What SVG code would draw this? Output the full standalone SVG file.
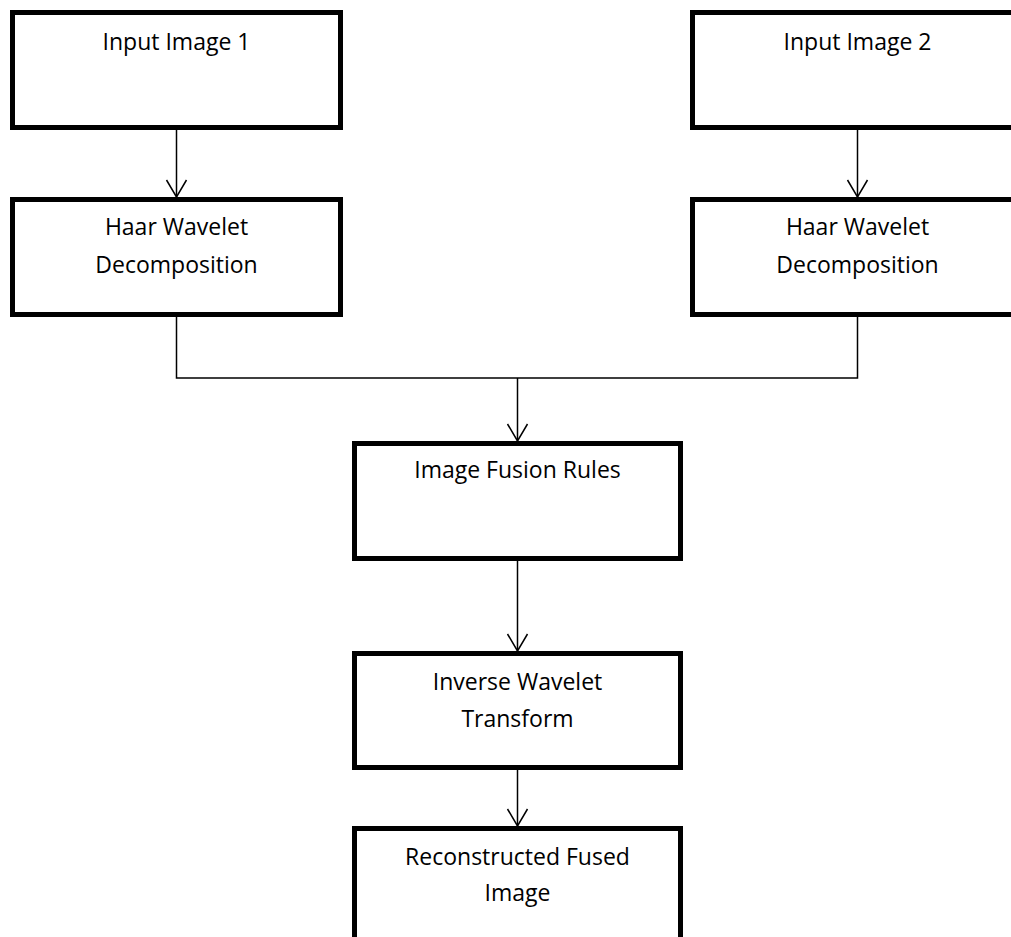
<svg xmlns="http://www.w3.org/2000/svg" width="1011" height="937" viewBox="0 0 1011 937">
  <style>
    .box { fill: #ffffff; stroke: #000000; stroke-width: 5; }
    .lbl { font-family: "Open Sans", "Liberation Sans", sans-serif; font-size: 23px; fill: #000000; text-anchor: middle; }
    .wire { fill: none; stroke: #000000; stroke-width: 1.5; }
    .arrow { fill: none; stroke: #000000; stroke-width: 1.5; marker-end: url(#vhead); }
  </style>
  <defs>
    <marker id="vhead" markerUnits="userSpaceOnUse" viewBox="-2 -2 22 24" refX="17" refY="10" markerWidth="22" markerHeight="24" orient="auto">
      <path d="M0,0 L17,10 L0,20" fill="none" stroke="#000000" stroke-width="1.5"/>
    </marker>
  </defs>
  <rect width="1011" height="937" fill="#ffffff"/>

  <g id="connectors">
    <line class="arrow" x1="176.5" y1="130" x2="176.5" y2="197"/>
    <line class="arrow" x1="857.5" y1="130" x2="857.5" y2="197"/>
    <polyline class="wire" points="176.5,317 176.5,378 857.5,378 857.5,317"/>
    <line class="arrow" x1="517.5" y1="378" x2="517.5" y2="441"/>
    <line class="arrow" x1="517.5" y1="561" x2="517.5" y2="651"/>
    <line class="arrow" x1="517.5" y1="770" x2="517.5" y2="826"/>
  </g>

  <g id="input1">
    <rect class="box" x="12.5" y="12.5" width="328" height="115"/>
    <text class="lbl" x="176.5" y="50">Input Image 1</text>
  </g>
  <g id="input2">
    <rect class="box" x="692.5" y="12.5" width="330" height="115"/>
    <text class="lbl" x="857.5" y="50">Input Image 2</text>
  </g>
  <g id="haar1">
    <rect class="box" x="12.5" y="199.5" width="328" height="115"/>
    <text class="lbl" x="176.5" y="235">Haar Wavelet</text>
    <text class="lbl" x="176.5" y="273">Decomposition</text>
  </g>
  <g id="haar2">
    <rect class="box" x="692.5" y="199.5" width="330" height="115"/>
    <text class="lbl" x="857.5" y="235">Haar Wavelet</text>
    <text class="lbl" x="857.5" y="273">Decomposition</text>
  </g>
  <g id="fusion">
    <rect class="box" x="354.5" y="443.5" width="326" height="115"/>
    <text class="lbl" x="517.5" y="478">Image Fusion Rules</text>
  </g>
  <g id="inverse">
    <rect class="box" x="354.5" y="653.5" width="326" height="114"/>
    <text class="lbl" x="517.5" y="690">Inverse Wavelet</text>
    <text class="lbl" x="517.5" y="727">Transform</text>
  </g>
  <g id="fused">
    <rect class="box" x="354.5" y="828.5" width="326" height="130"/>
    <text class="lbl" x="517.5" y="865">Reconstructed Fused</text>
    <text class="lbl" x="517.5" y="901">Image</text>
  </g>
</svg>
